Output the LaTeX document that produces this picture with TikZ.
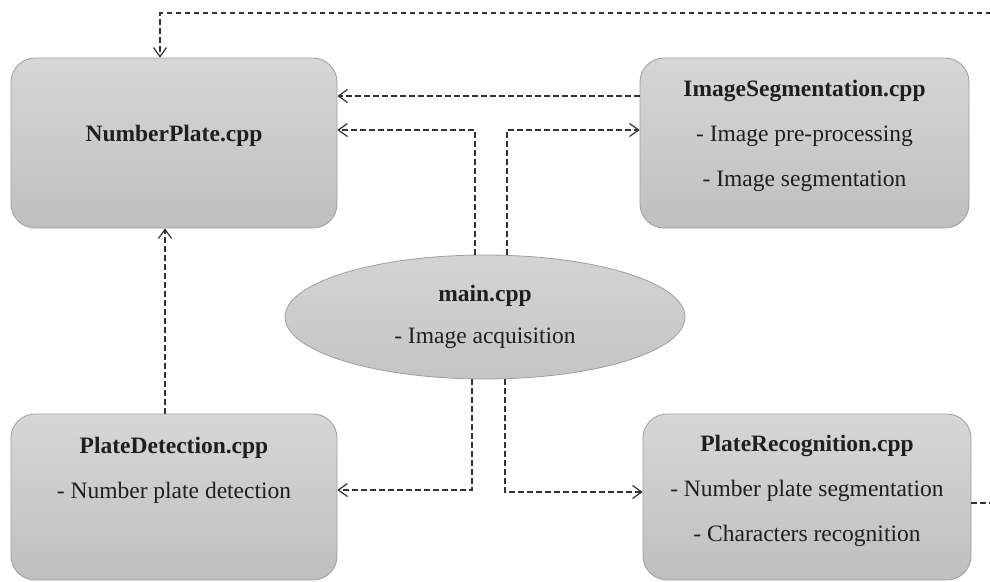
\documentclass[tikz,border=0pt]{standalone}
\usepackage{fontspec}
\setmainfont{Liberation Serif}
\usetikzlibrary{shapes.geometric,arrows.meta}
\begin{document}
\begin{tikzpicture}[x=1pt,y=-1pt,
  modbox/.style={draw=black!38,line width=0.8pt,rounded corners=24pt,top color=black!16,bottom color=black!25,minimum width=#1,inner sep=0pt},
  mainell/.style={ellipse,draw=black!38,line width=0.8pt,top color=black!17,bottom color=black!23,minimum width=400pt,minimum height=124pt,inner sep=0pt},
  txt/.style={align=center,font=\fontsize{23.5}{45}\selectfont,text=black!88,inner sep=0pt},
  conn/.style={draw=black!80,line width=1.2pt,dash pattern=on 5.5pt off 3.5pt},
  arr/.style={-{Straight Barb[length=9pt,width=13pt,line width=1.2pt]}}]
\useasboundingbox (0,0) rectangle (990,581);
% boxes
\node[modbox=326pt,minimum height=170pt] (np) at (174,143) {};
\node[modbox=329pt,minimum height=170pt] (seg) at (804.5,143) {};
\node[mainell] (main) at (485,317) {};
\node[modbox=326pt,minimum height=166pt] (pd) at (174,497) {};
\node[modbox=328pt,minimum height=166pt] (pr) at (807,497) {};
% texts
\node[txt] (npT) at ([yshift=7pt]np.center) {\textbf{NumberPlate.cpp}};
\node[txt] (segT) at ([yshift=7pt]seg.center) {\textbf{ImageSegmentation.cpp}\\- Image pre-processing\\- Image segmentation};
\node[txt,font=\fontsize{23.5}{42}\selectfont] (mainT) at (main.center) {\textbf{main.cpp}\\- Image acquisition};
\node[txt] (pdT) at ([yshift=27pt]pd.center) {\textbf{PlateDetection.cpp}\\- Number plate detection};
\node[txt] (prT) at ([yshift=6pt]pr.center) {\textbf{PlateRecognition.cpp}\\- Number plate segmentation\\- Characters recognition};
% free ends
\coordinate (topR) at (991,13);
\coordinate (botR) at (991,503);
% connectors
\draw[conn,arr] (topR) -| ([xshift=-14pt]np.north);
\draw[conn,arr] ([yshift=47pt]seg.west) -- ([yshift=47pt]np.east);
\draw[conn,arr] ([xshift=-10pt]main.north) |- ([yshift=13pt]np.east);
\draw[conn,arr] ([xshift=22pt]main.north) |- ([yshift=13pt]seg.west);
\draw[conn,arr] ([xshift=-9pt]pd.north) -- ([xshift=-9pt]np.south);
\draw[conn,arr] ([xshift=-13pt]main.south) |- ([yshift=7pt]pd.east);
\draw[conn,arr] ([xshift=20pt]main.south) |- ([yshift=5pt]pr.west);
\draw[conn] ([yshift=-6pt]pr.east) -- (botR);
\end{tikzpicture}
\end{document}
